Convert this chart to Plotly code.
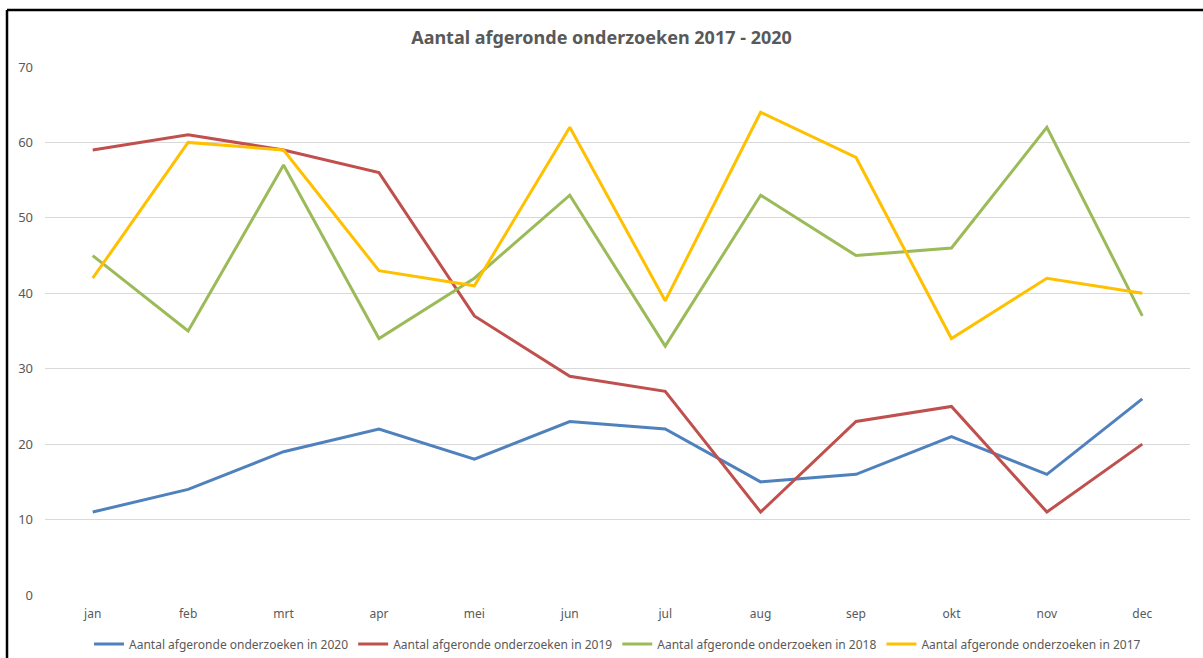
import plotly.graph_objects as go

months = ["jan", "feb", "mrt", "apr", "mei", "jun", "jul", "aug", "sep", "okt", "nov", "dec"]
y2020 = [11, 14, 19, 22, 18, 23, 22, 15, 16, 21, 16, 26]
y2019 = [59, 61, 59, 56, 37, 29, 27, 11, 23, 25, 11, 20]
y2018 = [45, 35, 57, 34, 42, 53, 33, 53, 45, 46, 62, 37]
y2017 = [42, 60, 59, 43, 41, 62, 39, 64, 58, 34, 42, 40]
y_ticks = [0, 10, 20, 30, 40, 50, 60, 70]

series = [
    ("Aantal afgeronde onderzoeken in 2020", y2020, "#4F81BD"),
    ("Aantal afgeronde onderzoeken in 2019", y2019, "#C0504D"),
    ("Aantal afgeronde onderzoeken in 2018", y2018, "#9BBB59"),
    ("Aantal afgeronde onderzoeken in 2017", y2017, "#FFC000"),
]

fig = go.Figure()
for name, vals, color in series:
    fig.add_trace(go.Scatter(
        x=months, y=vals, name=name, mode="lines",
        line=dict(color=color, width=3),
    ))

W, H = 1203, 658
ml, mr, mt, mb = 45, 13, 67, 63
pw, ph = W - ml - mr, H - mt - mb

def px(x):
    return (x - ml) / pw

def py(y):
    return (H - mb - y) / ph

fig.update_layout(
    width=W, height=H,
    margin=dict(l=ml, r=mr, t=mt, b=mb, autoexpand=False),
    paper_bgcolor="white",
    plot_bgcolor="white",
    font=dict(family="Noto Sans", color="#595959", size=12),
    title=dict(
        text="<b>Aantal afgeronde onderzoeken 2017 - 2020</b>",
        x=0.5, xanchor="center", y=1 - 38 / H, yanchor="middle",
        font=dict(size=18, color="#595959"),
    ),
    xaxis=dict(
        range=[-0.5, 11.5], showgrid=False, zeroline=False, showline=False,
        ticks="", tickfont=dict(size=12, color="#595959"),
        ticklabelstandoff=10,
    ),
    yaxis=dict(
        range=[0, 70], tickvals=y_ticks, showgrid=True, gridcolor="#D9D9D9",
        gridwidth=1, zeroline=False, showline=False, ticks="",
        tickfont=dict(size=13, color="#595959"), ticklabelstandoff=11,
    ),
    legend=dict(
        orientation="h", x=0.5, xanchor="center",
        yref="container", y=1 - 644 / H, yanchor="middle",
        font=dict(size=12, color="#595959"), itemwidth=30,
        traceorder="normal",
    ),
    shapes=[
        dict(type="line", xref="paper", yref="paper", x0=px(7), x1=px(W), y0=py(10), y1=py(10),
             line=dict(color="black", width=2.5)),
        dict(type="line", xref="paper", yref="paper", x0=px(7), x1=px(7), y0=py(10), y1=py(H),
             line=dict(color="black", width=2.5)),
    ],
)

fig.write_html(
    "out.html",
    config={"displayModeBar": False},
    post_script="document.body.style.margin='0';document.body.style.overflow='hidden';",
)
